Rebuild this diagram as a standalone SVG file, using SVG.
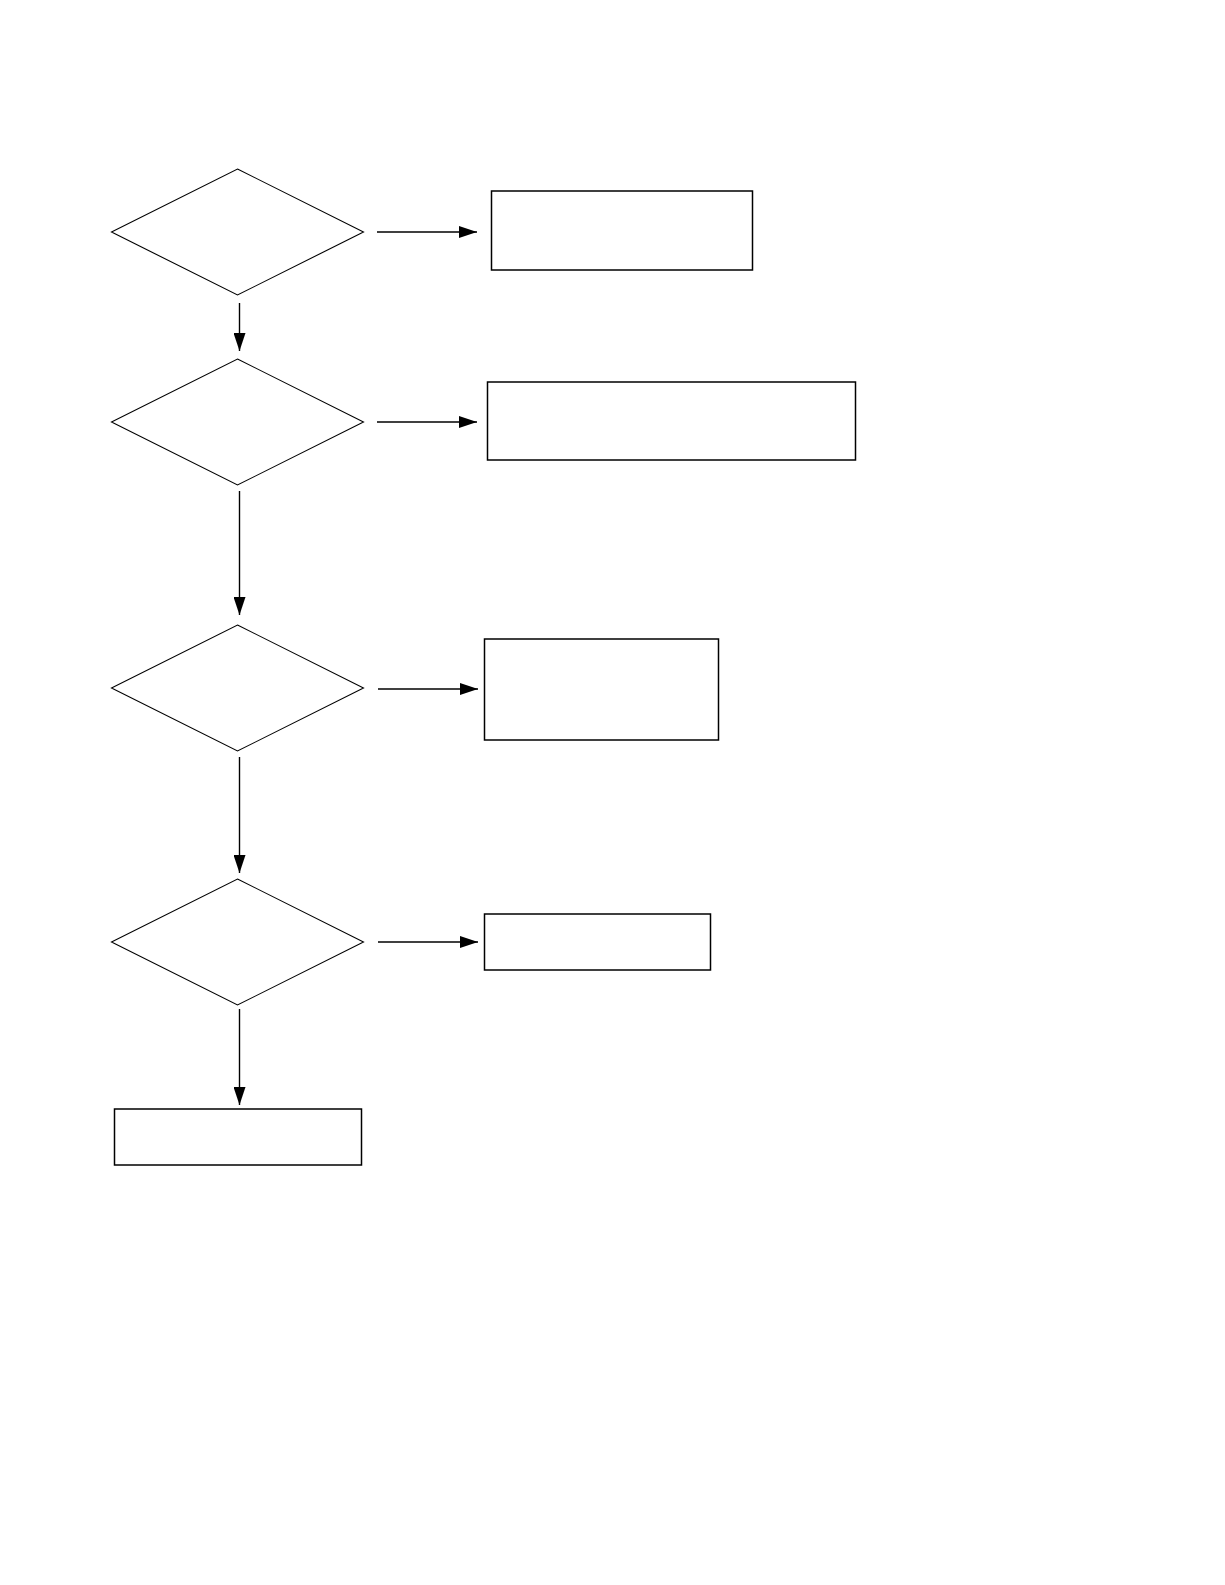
<svg xmlns="http://www.w3.org/2000/svg" width="1225" height="1585" viewBox="0 0 1225 1585">
<style>
.dia{fill:#fff;stroke:#000;stroke-width:1.1}
.box{fill:#fff;stroke:#000;stroke-width:1.5}
.con{fill:none;stroke:#000;stroke-width:1.4}
</style>
<defs>
<marker id="ah" markerUnits="userSpaceOnUse" markerWidth="18" markerHeight="12" refX="18" refY="6" orient="auto">
<path d="M0,0 L18,6 L0,12 z" fill="#000"/>
</marker>
</defs>
<rect width="1225" height="1585" fill="#fff"/>
<g id="d1"><polygon class="dia" points="237.5,169 363.5,232 237.5,295 111.5,232"/></g>
<g id="d2"><polygon class="dia" points="237.5,359 363.5,422 237.5,485 111.5,422"/></g>
<g id="d3"><polygon class="dia" points="237.5,625 363.5,688 237.5,751 111.5,688"/></g>
<g id="d4"><polygon class="dia" points="237.5,879 363.5,942 237.5,1005 111.5,942"/></g>
<g id="r1"><rect class="box" x="491.5" y="191" width="261" height="79"/></g>
<g id="r2"><rect class="box" x="487.5" y="382" width="368" height="78"/></g>
<g id="r3"><rect class="box" x="484.5" y="639" width="234" height="101"/></g>
<g id="r4"><rect class="box" x="484.5" y="914" width="226" height="56"/></g>
<g id="r5"><rect class="box" x="114.5" y="1109" width="247" height="56"/></g>
<g id="connectors">
<line class="con" x1="377" y1="232" x2="477" y2="232" marker-end="url(#ah)"/>
<line class="con" x1="377" y1="422" x2="477" y2="422" marker-end="url(#ah)"/>
<line class="con" x1="378" y1="689" x2="478" y2="689" marker-end="url(#ah)"/>
<line class="con" x1="378" y1="942" x2="478" y2="942" marker-end="url(#ah)"/>
<line class="con" x1="239.5" y1="303" x2="239.5" y2="351" marker-end="url(#ah)"/>
<line class="con" x1="239.5" y1="491" x2="239.5" y2="615" marker-end="url(#ah)"/>
<line class="con" x1="239.5" y1="757" x2="239.5" y2="873" marker-end="url(#ah)"/>
<line class="con" x1="239.5" y1="1009" x2="239.5" y2="1105" marker-end="url(#ah)"/>
</g>
</svg>
